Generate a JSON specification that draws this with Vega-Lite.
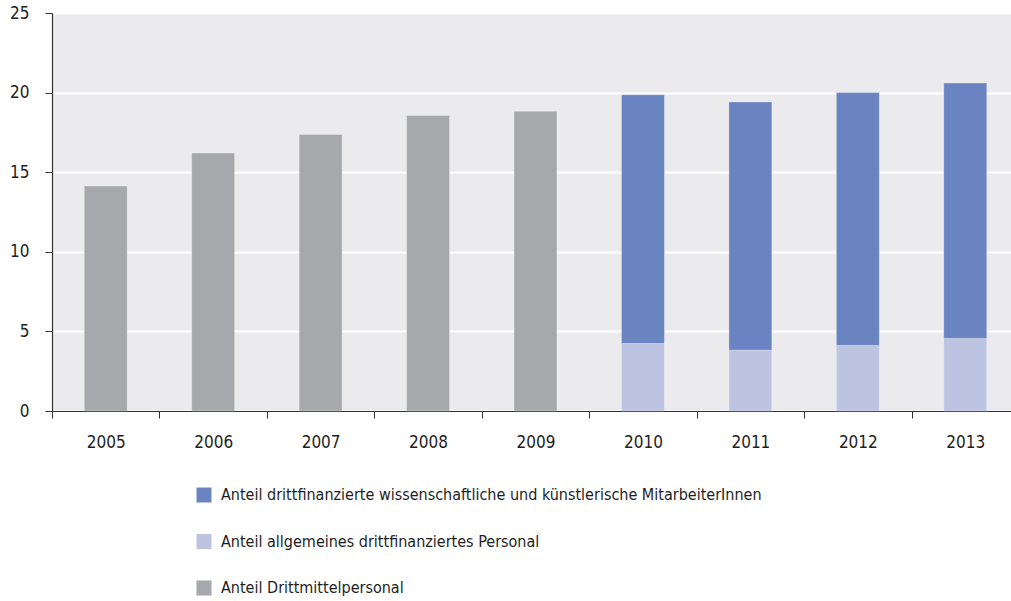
{
  "$schema": "https://vega.github.io/schema/vega-lite/v6.json",
  "autosize": {"type": "none"},
  "padding": {"left": 52, "top": 13, "right": 0, "bottom": 190},
  "width": 959,
  "height": 398,
  "background": "#ffffff",
  "config": {
    "view": {"fill": "#EBEBEE", "stroke": null},
    "font": "'DejaVu Sans Condensed', Roboto, sans-serif",
    "axis": {"labelFont": "'DejaVu Sans Condensed', Roboto, sans-serif", "labelColor": "#1e1e1e"},
    "legend": {"labelFont": "'DejaVu Sans Condensed', Roboto, sans-serif"}
  },
  "data": {
    "values": [
      {"year": "2005", "cat": "Anteil Drittmittelpersonal", "value": 14.13, "ord": 1},
      {"year": "2006", "cat": "Anteil Drittmittelpersonal", "value": 16.2, "ord": 1},
      {"year": "2007", "cat": "Anteil Drittmittelpersonal", "value": 17.37, "ord": 1},
      {"year": "2008", "cat": "Anteil Drittmittelpersonal", "value": 18.56, "ord": 1},
      {"year": "2009", "cat": "Anteil Drittmittelpersonal", "value": 18.83, "ord": 1},
      {"year": "2010", "cat": "Anteil allgemeines drittfinanziertes Personal", "value": 4.24, "ord": 1},
      {"year": "2010", "cat": "Anteil drittfinanzierte wissenschaftliche und künstlerische MitarbeiterInnen", "value": 15.63, "ord": 2},
      {"year": "2011", "cat": "Anteil allgemeines drittfinanziertes Personal", "value": 3.82, "ord": 1},
      {"year": "2011", "cat": "Anteil drittfinanzierte wissenschaftliche und künstlerische MitarbeiterInnen", "value": 15.59, "ord": 2},
      {"year": "2012", "cat": "Anteil allgemeines drittfinanziertes Personal", "value": 4.12, "ord": 1},
      {"year": "2012", "cat": "Anteil drittfinanzierte wissenschaftliche und künstlerische MitarbeiterInnen", "value": 15.88, "ord": 2},
      {"year": "2013", "cat": "Anteil allgemeines drittfinanziertes Personal", "value": 4.56, "ord": 1},
      {"year": "2013", "cat": "Anteil drittfinanzierte wissenschaftliche und künstlerische MitarbeiterInnen", "value": 16.04, "ord": 2}
    ]
  },
  "mark": {"type": "bar", "width": {"band": 0.4}, "stroke": "#ffffff", "strokeWidth": 1, "strokeOpacity": 0.3},
  "encoding": {
    "x": {
      "field": "year",
      "type": "ordinal",
      "scale": {"paddingInner": 0, "paddingOuter": 0, "range": [0, 967]},
      "axis": {
        "title": null,
        "labelAngle": 0,
        "labelFontSize": 17,
        "labelPadding": 16,
        "tickBand": "extent",
        "tickSize": 7,
        "tickColor": "#333333",
        "domainColor": "#333333",
        "domainWidth": 1.2,
        "grid": false
      }
    },
    "y": {
      "field": "value",
      "type": "quantitative",
      "stack": "zero",
      "scale": {"domain": [0, 25], "nice": false},
      "axis": {
        "title": null,
        "values": [0, 5, 10, 15, 20, 25],
        "labelFontSize": 17,
        "labelPadding": 16,
        "tickSize": 7,
        "tickColor": "#333333",
        "domainColor": "#333333",
        "domainWidth": 1.2,
        "grid": true,
        "gridColor": "#ffffff",
        "gridWidth": 2
      }
    },
    "color": {
      "field": "cat",
      "type": "nominal",
      "scale": {
        "domain": [
          "Anteil drittfinanzierte wissenschaftliche und künstlerische MitarbeiterInnen",
          "Anteil allgemeines drittfinanziertes Personal",
          "Anteil Drittmittelpersonal"
        ],
        "range": ["#6A84C2", "#BDC4E2", "#A7A8AC"]
      },
      "legend": {
        "title": null,
        "orient": "none",
        "legendX": 144,
        "legendY": 474,
        "direction": "vertical",
        "symbolType": "square",
        "symbolSize": 225,
        "symbolStrokeWidth": 0,
        "labelFontSize": 16,
        "labelColor": "#1e1e1e",
        "labelOffset": 9,
        "rowPadding": 30.5,
        "padding": 0,
        "labelLimit": 800
      }
    },
    "order": {"field": "ord", "type": "quantitative"}
  }
}
